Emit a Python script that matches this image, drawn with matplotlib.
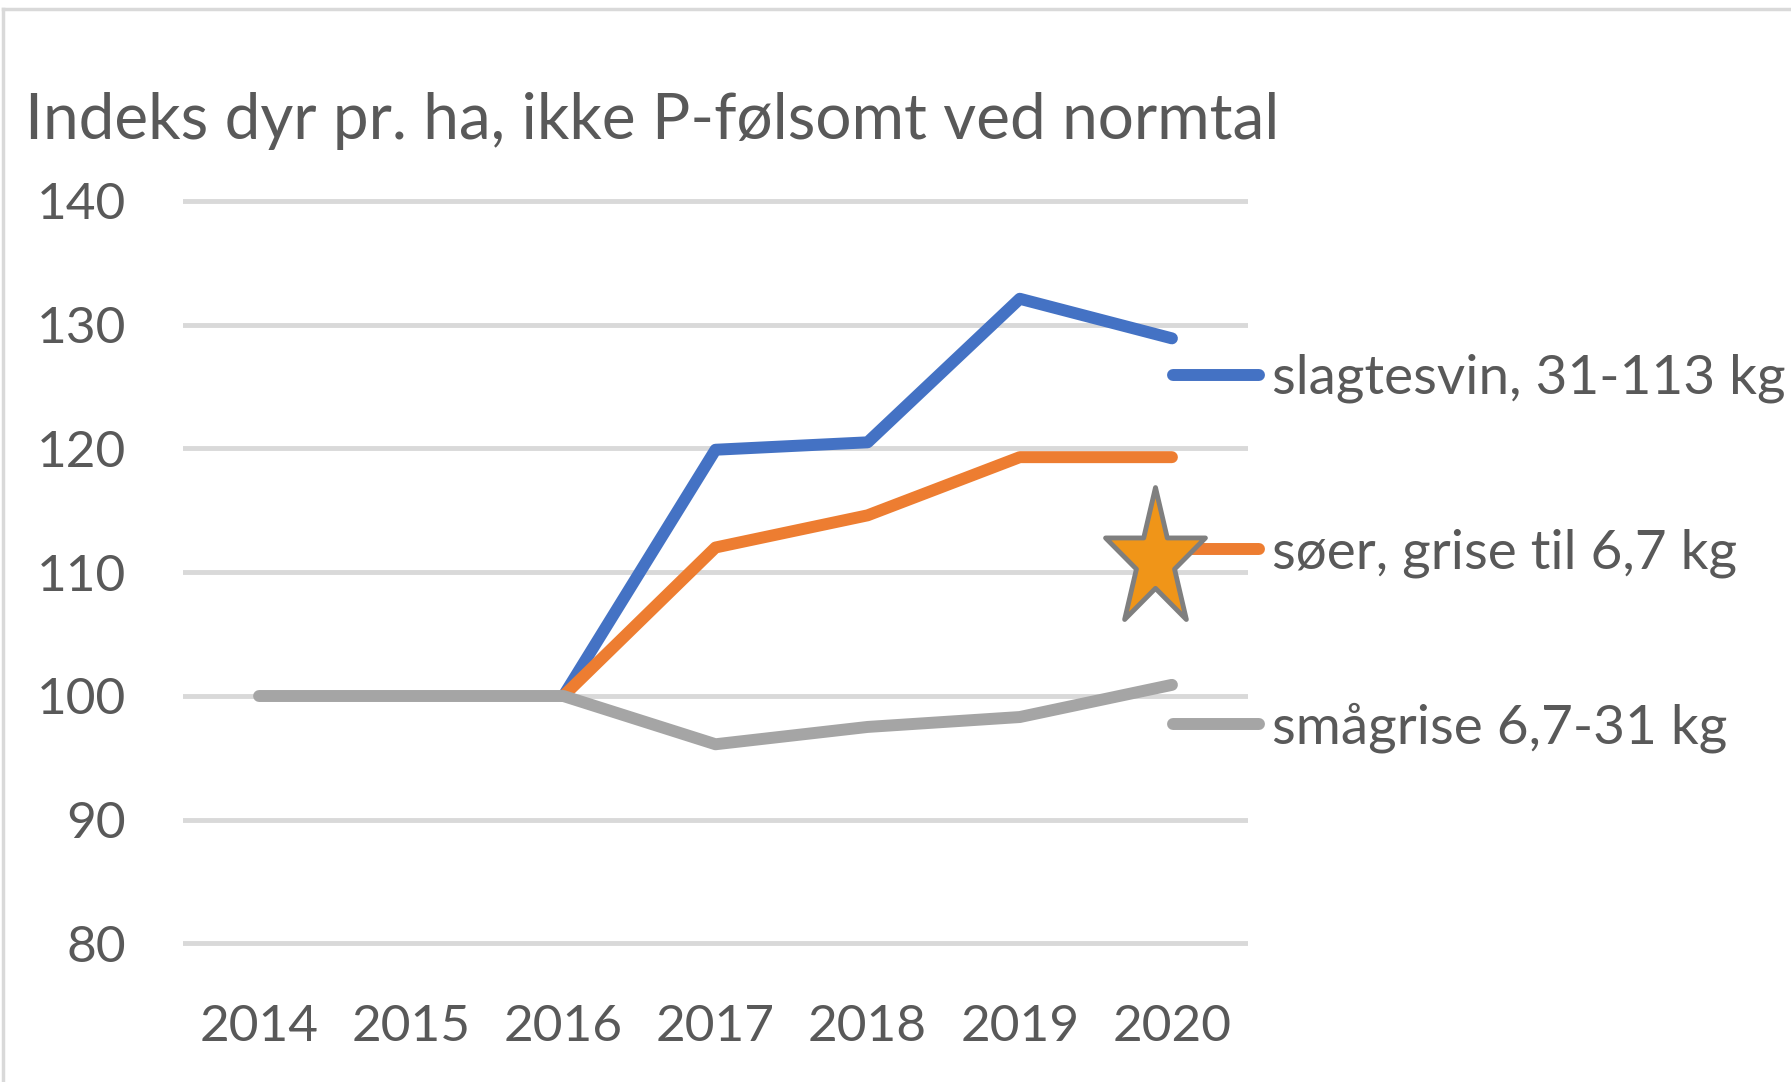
import numpy as np
import matplotlib
matplotlib.use("Agg")
import matplotlib.pyplot as plt
from matplotlib.path import Path
from matplotlib.lines import Line2D

years = ["2014", "2015", "2016", "2017", "2018", "2019", "2020"]
slagtesvin = [None, None, 100, 119.9, 120.5, 132.1, 128.9]
soeer = [None, None, 100, 112.0, 114.6, 119.3, 119.3]
smaagrise = [100, 100, 100, 96.1, 97.5, 98.3, 100.9]
labels = ["slagtesvin, 31-113 kg", "søer, grise til 6,7 kg", "smågrise 6,7-31 kg"]
yticks = [80, 90, 100, 110, 120, 130, 140]
title = "Indeks dyr pr. ha, ikke P-følsomt ved normtal"
star_x, star_y = 5.89, 111.0   # star highlight next to the søer series

plt.rcParams['font.family'] = ['Lato', 'DejaVu Sans']
txt = '#595959'
W, H = 1791, 1082

fig = plt.figure(figsize=(W / 100, H / 100), dpi=100)
# axes placed so that 140 sits at y=201px and 80 at y=943.5px
ax = fig.add_axes([183 / W, 1 - 968.25 / H, (1248 - 183) / W, 792 / H])

x = np.arange(len(years))
def arr(v):
    return np.array([np.nan if a is None else a for a in v], dtype=float)

lw = 8.6
kw = dict(lw=lw, solid_capstyle='round', solid_joinstyle='round')
l1, = ax.plot(x, arr(slagtesvin), color='#4472C4', label=labels[0], zorder=3, **kw)
l2, = ax.plot(x, arr(soeer), color='#ED7D31', label=labels[1], zorder=3, **kw)
l3, = ax.plot(x, arr(smaagrise), color='#A5A5A5', label=labels[2], zorder=3, **kw)

ax.set_xlim(-0.5, 6.5)
ax.set_ylim(78, 142)
ax.set_xticks(x)
ax.set_xticklabels(years)
ax.set_yticks(yticks)
ax.tick_params(axis='x', length=0, pad=26, labelsize=37, labelcolor=txt)
ax.tick_params(axis='y', length=0, pad=41, labelsize=37, labelcolor=txt)
ax.grid(True, axis='y', color='#D9D9D9', lw=3.5)
ax.set_axisbelow(True)
for s in ax.spines.values():
    s.set_visible(False)

leg = ax.legend(handles=[l1, l2, l3], loc='upper left',
                bbox_to_anchor=(1173 / W, 1 - 354 / H), bbox_transform=fig.transFigure,
                frameon=False, fontsize=39.5, handlelength=1.56, handletextpad=0.25,
                labelspacing=2.27, borderpad=0, borderaxespad=0)
for t in leg.get_texts():
    t.set_color(txt)

# stretched five-point star
st = Path.unit_regular_star(5, 0.382)
star_path = Path(st.vertices * np.array([0.72, 1.0]), st.codes)
ax.plot([star_x], [star_y], marker=star_path, markersize=105, markerfacecolor='#F09518',
        markeredgecolor='#7F7F7F', markeredgewidth=3.5, ls='none', clip_on=False, zorder=10)

fig.text(25 / W, 1 - 139 / H, title, fontsize=46, color=txt, va='baseline', ha='left')

# light frame (left and top edge visible)
fig.add_artist(Line2D([3 / W, 3 / W], [0, 1 - 9 / H], transform=fig.transFigure,
                      color='#D9D9D9', lw=2.5))
fig.add_artist(Line2D([3 / W, 1], [1 - 9 / H, 1 - 9 / H], transform=fig.transFigure,
                      color='#D9D9D9', lw=2.5))

fig.savefig("out.png", dpi=100)
